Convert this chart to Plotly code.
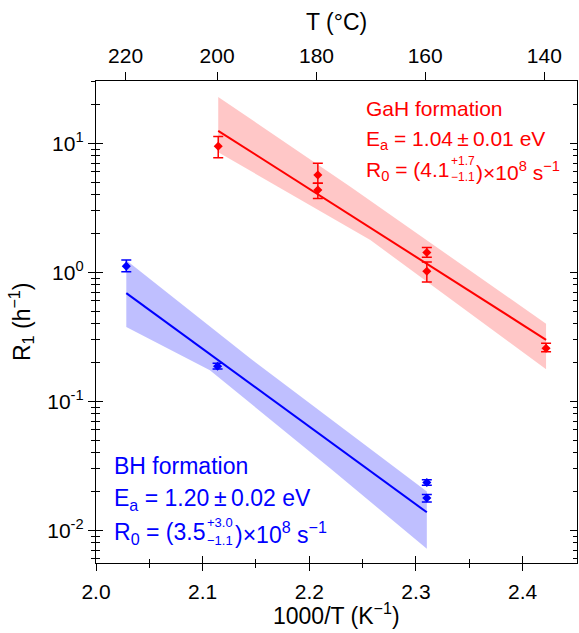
import plotly.graph_objects as go

# ---------------- data ----------------
# GaH formation (red)
gah_x = [2.1146, 2.208, 2.208, 2.3102, 2.3102, 2.422]
gah_y = [9.5, 5.68, 4.35, 1.426, 1.02, 0.258]
gah_err_plus = [1.8, 1.32, 0.55, 0.134, 0.185, 0.024]
gah_err_minus = [1.77, 0.78, 0.61, 0.116, 0.177, 0.016]
gah_fit_x = [2.1146, 2.422]
gah_fit_y = [12.5, 0.30]
gah_band_upper_x = [2.1146, 2.2385, 2.422]
gah_band_upper_y = [22.9, 4.60, 0.40]
gah_band_lower_x = [2.1146, 2.2572, 2.422]
gah_band_lower_y = [8.53, 1.78, 0.177]

# BH formation (blue)
bh_x = [2.0284, 2.114, 2.3102, 2.3102]
bh_y = [1.117, 0.187, 0.0235, 0.0178]
bh_err_plus = [0.128, 0.010, 0.0012, 0.0012]
bh_err_minus = [0.107, 0.009, 0.0011, 0.0012]
bh_fit_x = [2.0284, 2.3102]
bh_fit_y = [0.69, 0.0138]
bh_band_upper_x = [2.0284, 2.1448, 2.3102]
bh_band_upper_y = [1.24, 0.215, 0.020]
bh_band_lower_x = [2.0284, 2.1068, 2.2195, 2.3102]
bh_band_lower_y = [0.377, 0.174, 0.0303, 0.0072]

# axes
x_ticks = [2.0, 2.1, 2.2, 2.3, 2.4]
x_tick_labels = ["2.0", "2.1", "2.2", "2.3", "2.4"]
x_minor = [2.05, 2.15, 2.25, 2.35]
top_T_celsius = [220, 200, 180, 160, 140]
y_ticks = [0.01, 0.1, 1, 10]
y_tick_labels = ["10<sup>-2</sup>", "10<sup>-1</sup>", "10<sup>0</sup>", "10<sup>1</sup>"]
y_minor = [k * 10 ** e for e in (-3, -2, -1, 0, 1) for k in range(2, 10)]

# ---------------- styling ----------------
FONT = "Liberation Sans, Arial, sans-serif"
RED = "#ff0000"
BLUE = "#0000ff"
RED_FILL = "rgba(255,0,0,0.22)"
BLUE_FILL = "rgba(0,0,255,0.25)"
X_RANGE = [2.0, 2.451]
Y_RANGE = [-2.253, 1.483]
L, R, T, B = 96, 2, 81, 70
W, H = 579, 633
PW, PH = W - L - R, H - T - B

def px(xp):
    return (xp - L) / PW

def py(yp):
    return (H - B - yp) / PH

fig = go.Figure()

# bands
fig.add_trace(go.Scatter(
    x=gah_band_upper_x + gah_band_lower_x[::-1],
    y=gah_band_upper_y + gah_band_lower_y[::-1],
    fill="toself", fillcolor=RED_FILL, line=dict(width=0), mode="lines",
    hoverinfo="skip", showlegend=False))
fig.add_trace(go.Scatter(
    x=bh_band_upper_x + bh_band_lower_x[::-1],
    y=bh_band_upper_y + bh_band_lower_y[::-1],
    fill="toself", fillcolor=BLUE_FILL, line=dict(width=0), mode="lines",
    hoverinfo="skip", showlegend=False))

# fits
fig.add_trace(go.Scatter(x=gah_fit_x, y=gah_fit_y, mode="lines",
                         line=dict(color=RED, width=2), showlegend=False))
fig.add_trace(go.Scatter(x=bh_fit_x, y=bh_fit_y, mode="lines",
                         line=dict(color=BLUE, width=2), showlegend=False))

# data
fig.add_trace(go.Scatter(
    x=gah_x, y=gah_y, mode="markers",
    marker=dict(symbol="diamond", size=7, color=RED),
    error_y=dict(type="data", array=gah_err_plus, arrayminus=gah_err_minus,
                 color=RED, thickness=1.5, width=5),
    showlegend=False))
fig.add_trace(go.Scatter(
    x=bh_x, y=bh_y, mode="markers",
    marker=dict(symbol="diamond", size=7, color=BLUE),
    error_y=dict(type="data", array=bh_err_plus, arrayminus=bh_err_minus,
                 color=BLUE, thickness=1.5, width=5),
    showlegend=False))

# dummy traces for overlay axes
fig.add_trace(go.Scatter(x=[None], y=[None], xaxis="x2", yaxis="y",
                         showlegend=False, hoverinfo="skip"))
fig.add_trace(go.Scatter(x=[None], y=[None], xaxis="x3", yaxis="y3",
                         showlegend=False, hoverinfo="skip"))

axis_common = dict(showgrid=False, zeroline=False, showline=True,
                   linecolor="black", linewidth=1.3, automargin=False,
                   tickcolor="black", tickwidth=1.3)
tickfont = dict(family=FONT, size=21, color="black")
TITLE_SIZE = 23

fig.update_layout(
    width=W, height=H,
    margin=dict(l=L, r=R, t=T, b=B, autoexpand=False),
    paper_bgcolor="white", plot_bgcolor="white",
    font=dict(family=FONT, color="black"),
    xaxis=dict(**axis_common, range=X_RANGE, tickmode="array",
               tickvals=x_ticks, ticktext=x_tick_labels,
               ticks="outside", ticklen=7, tickfont=tickfont,
               ticklabelstandoff=3,
               minor=dict(tickmode="array", tickvals=x_minor, ticks="outside",
                          ticklen=4, tickwidth=1.3, tickcolor="black")),
    xaxis2=dict(**axis_common, overlaying="x", side="top", range=X_RANGE,
                tickmode="array",
                tickvals=[1000.0 / (t + 273.15) for t in top_T_celsius],
                ticktext=[str(t) for t in top_T_celsius],
                ticks="outside", ticklen=8, tickfont=tickfont),
    xaxis3=dict(**axis_common, overlaying="x", side="bottom", range=X_RANGE,
                tickmode="array", tickvals=x_ticks, ticks="inside", ticklen=7,
                showticklabels=False,
                minor=dict(tickmode="array", tickvals=x_minor, ticks="inside",
                           ticklen=4, tickwidth=1.3, tickcolor="black")),
    yaxis=dict(**axis_common, type="log", range=Y_RANGE, tickmode="array",
               tickvals=y_ticks, ticktext=y_tick_labels,
               ticks="outside", ticklen=7, tickfont=tickfont,
               minor=dict(tickmode="array", tickvals=y_minor, ticks="outside",
                          ticklen=4, tickwidth=1.3, tickcolor="black")),
    yaxis3=dict(**axis_common, type="log", overlaying="y", range=Y_RANGE,
                tickmode="array", tickvals=y_ticks, ticks="inside", ticklen=7,
                showticklabels=False, mirror="ticks",
                minor=dict(tickmode="array", tickvals=y_minor, ticks="inside",
                           ticklen=4, tickwidth=1.3, tickcolor="black")),
)

def add_text(text, xp, yp, size, color, xanchor="left", angle=0):
    fig.add_annotation(text=text, xref="paper", yref="paper",
                       x=px(xp), y=py(yp), xanchor=xanchor, yanchor="middle",
                       showarrow=False, textangle=angle,
                       font=dict(family=FONT, size=size, color=color))

# axis titles
cx = L + PW / 2
add_text("T (\u00b0C)", cx, 22, TITLE_SIZE, "black", xanchor="center")
add_text("1000/T (K<sup>\u22121</sup>)", cx, 614, TITLE_SIZE, "black", xanchor="center")
add_text("R<sub>1</sub> (h<sup>\u22121</sup>)", 21, T + PH / 2, TITLE_SIZE, "black",
         xanchor="center", angle=-90)

# GaH annotation (red)
rs = 21
add_text("GaH formation", 364, 108, rs, RED)
add_text("E<sub>a</sub> = 1.04\u2009\u00b1\u20090.01 eV", 364, 140, rs, RED)
add_text("R<sub>0</sub> = (4.1", 364, 171, rs, RED)
add_text("+1.7", 449, 161, 12, RED)
add_text("\u22121.1", 449, 177, 12, RED)
add_text(")\u00d710<sup>8</sup> s<sup>\u22121</sup>", 474, 171, rs, RED)

# BH annotation (blue)
bs = 23
add_text("BH formation", 112, 466, bs, BLUE)
add_text("E<sub>a</sub> = 1.20\u2009\u00b1\u20090.02 eV", 112, 499, bs, BLUE)
add_text("R<sub>0</sub> = (3.5", 112, 533, bs, BLUE)
add_text("+3.0", 205, 522, 13, BLUE)
add_text("\u22121.1", 205, 540, 13, BLUE)
add_text(")\u00d710<sup>8</sup> s<sup>\u22121</sup>", 233, 533, bs, BLUE)

fig.write_html("out.html",
               config={"displayModeBar": False},
               post_script="document.body.style.margin='0';"
                           "document.body.style.overflow='hidden';")
